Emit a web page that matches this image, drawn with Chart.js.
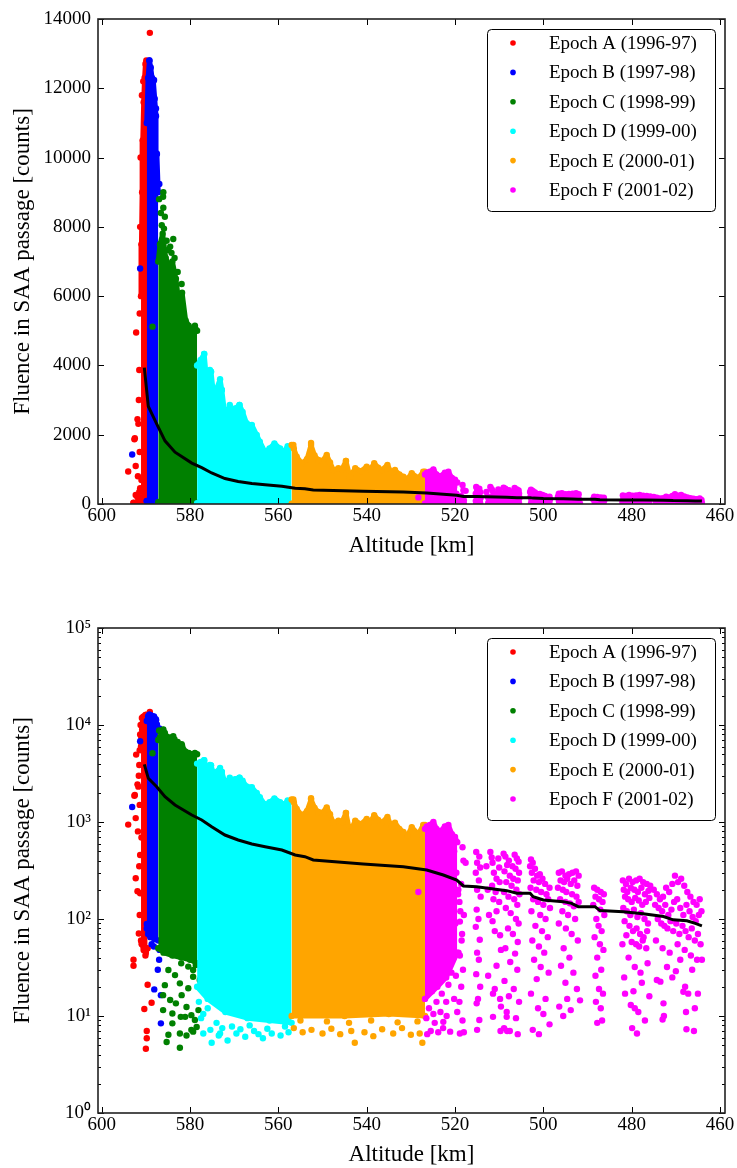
<!DOCTYPE html>
<html>
<head>
<meta charset="utf-8">
<script src="https://cdn.jsdelivr.net/npm/chart.js@4/dist/chart.umd.min.js"></script>
<style>
  html, body { margin: 0; padding: 0; background: #fff; }
  canvas { display: block; }
</style>
</head>
<body>
<canvas id="linChart" width="737" height="584"></canvas>
<canvas id="logChart" width="737" height="584"></canvas>
<script>
// axis ticks
const altTicks = [600, 580, 560, 540, 520, 500, 480, 460];
const linTicks = [0, 2000, 4000, 6000, 8000, 10000, 12000, 14000];
const logTicks = [1, 10, 100, 1000, 10000, 100000];
const logTickLabels = ['10⁰', '10¹', '10²', '10³', '10⁴', '10⁵'];

const epochLabels = [
  'Epoch A (1996-97)', 'Epoch B (1997-98)', 'Epoch C (1998-99)',
  'Epoch D (1999-00)', 'Epoch E (2000-01)', 'Epoch F (2001-02)',
];
const epochColors = ['#ff0000', '#0000ff', '#008000', '#00ffff', '#ffa500', '#ff00ff'];

// [altitude km, fluence counts] — dense core of each cloud: upper / lower edge
const epochA_top = [[589.6, 11000], [589.9, 12800], [590.1, 12700], [590.3, 12300], [590.5, 11600], [590.7, 10500], [590.85, 9000], [591.0, 7500], [591.1, 6000]];
const epochA_low = [[589.6, 50], [590.0, 45], [590.5, 48], [590.9, 55], [591.1, 60]];
const epochB_top = [[587.2, 9000], [587.5, 10100], [587.7, 11200], [588.0, 11700], [588.3, 12200], [588.6, 12300], [588.9, 12600], [589.2, 12800], [589.5, 12300], [589.8, 11000]];
const epochB_low = [[587.2, 60], [588.0, 62], [589.0, 65], [589.8, 80]];
const epochC_top = [[578.4, 5000], [578.9, 5150], [579.5, 5000], [580.3, 5150], [581.0, 5300], [581.8, 6100], [582.5, 5800], [583.2, 6500], [584.0, 7000], [584.8, 6900], [585.5, 7100], [586.2, 7800], [586.8, 7500], [587.2, 7000]];
const epochC_low = [[578.4, 35], [580.0, 38], [582.0, 40], [584.0, 42], [586.0, 45], [587.2, 50]];
const epochD_top = [[557.0, 1650], [557.9, 1670], [558.8, 1500], [559.6, 1600], [560.9, 1750], [562.0, 1600], [563.0, 1500], [564.2, 1800], [564.9, 1990], [566.0, 2280], [567.2, 2330], [568.1, 2660], [568.8, 2860], [569.8, 2760], [570.5, 2600], [571.0, 2860], [572.0, 2450], [572.8, 3290], [573.2, 3600], [574.2, 3250], [574.7, 3200], [575.25, 3820], [576.2, 3500], [576.8, 4330], [577.6, 4160], [578.4, 4000]];
const epochD_low = [[557.0, 8.5], [562.0, 9], [567.0, 9.5], [572.0, 11], [576.0, 15], [578.4, 20]];
const epochE_top = [[526.8, 930], [527.2, 932], [528.3, 750], [529.8, 886], [530.8, 720], [531.7, 788], [532.6, 850], [533.6, 981], [534.4, 900], [535.3, 1126], [536.6, 981], [537.4, 1050], [538.3, 1175], [539.2, 1000], [540.0, 1077], [541.3, 950], [542.6, 1030], [543.8, 788], [544.7, 1241], [545.6, 1000], [546.4, 1030], [547.55, 981], [548.3, 1200], [549.05, 1414], [550.0, 1250], [550.95, 1270], [551.8, 1400], [552.6, 1703], [553.5, 1300], [554.7, 1174], [555.85, 1366], [556.5, 1600], [557.0, 1703]];
const epochE_low = [[526.8, 10], [535.0, 10.5], [545.0, 10], [557.0, 10]];
const epochF_top = [[519.5, 620], [520.0, 700], [520.7, 750], [521.5, 930], [522.3, 900], [523.4, 800], [524.2, 850], [524.9, 1000], [525.7, 930], [526.4, 900], [526.8, 850]];
const epochF_low = [[519.5, 45], [522.0, 25], [524.0, 20], [526.8, 15]];

// single passages outside the dense cores
const epochA_pts = [[589.1, 13600], [592.2, 4950], [591.5, 3870], [591.9, 2445], [592.5, 1896], [594.0, 940], [592.3, 1097], [592.8, 38], [591.9, 193], [591.0, 693], [592.6, 1866], [591.7, 2313], [591.3, 457], [592.3, 263], [591.3, 184], [591.6, 71], [590.4, 48], [590.1, 42], [592.8, 33], [589.6, 21], [588.7, 13.7], [590.35, 11.8], [589.8, 7.0], [589.8, 5.9], [590.0, 4.6], [591.5, 350], [591.4, 1500], [591.6, 3000], [591.8, 800], [591.4, 110], [591.4, 5500], [591.3, 8000], [591.2, 10000], [590.9, 11800], [590.6, 12200]];
const epochB_pts = [[591.3, 6800], [593.1, 1430], [589.8, 89], [588.2, 52], [587.3, 30], [588.1, 18.8], [586.6, 16.4], [586.6, 8.4], [587.0, 38], [586.9, 48], [589.5, 70], [588.7, 55], [589.2, 12800], [588.15, 12240], [587.7, 11420], [587.55, 10120], [586.95, 9237]];
const epochC_pts = [[588.5, 5120], [583.8, 7650], [584.5, 7430], [584.9, 7330], [586.05, 9000], [586.1, 8870], [586.05, 8550], [585.7, 8290], [586.4, 8050], [587.0, 8800], [586.6, 8400], [585.9, 7950], [584.2, 7250], [583.5, 7100], [582.8, 6700], [581.9, 6350], [585.3, 7600],
  [582.3, 4.7], [585.3, 5.4], [584.9, 6.4], [582.3, 6.6], [580.8, 6.3], [579.7, 7.2], [579.3, 6.9], [578.5, 7.7], [586.1, 11.5], [584.0, 10.6], [582.1, 9.8], [583.2, 13.5], [586.1, 16.4], [580.8, 12.4], [578.9, 9.1], [579.7, 10.2], [578.1, 11.5], [585.7, 20.8], [582.3, 21.7], [583.4, 26.4], [584.9, 29.8], [580.4, 19.3], [579.3, 29.8], [577.8, 23.5], [582.0, 34.9], [580.4, 32.3], [578.7, 33.5], [579.3, 25.4], [581.9, 16.4], [584.5, 14.6], [584.0, 8.4], [581.1, 9.8]];
const epochD_pts = [[576.8, 4330], [575.25, 3820], [572.8, 3290], [568.8, 2860], [575.5, 3870], [574.7, 3195],
  [577.5, 9.5], [575.4, 7.2], [575.1, 5.3], [573.5, 6.3], [571.5, 5.6], [569.5, 6.6], [567.5, 6.1], [565.5, 7.0], [563.5, 5.9], [561.5, 6.6], [559.5, 6.3], [557.7, 6.8], [576.0, 12], [574.0, 8.5], [570.5, 7.8], [566.5, 8.0], [562.5, 7.4], [558.5, 7.8], [564.5, 6.5], [568.6, 7.3], [572.7, 7.5], [577.0, 10.5], [578.0, 14], [577.0, 6.6], [573.2, 6.6]];
const epochE_pts = [[552.6, 1760], [544.7, 1241], [556.6, 1703],
  [556.5, 7.5], [554.5, 6.8], [552.5, 7.2], [550.0, 6.6], [548.0, 7.4], [546.0, 6.5], [543.5, 7.0], [542.7, 5.3], [540.5, 6.8], [538.5, 6.2], [536.5, 7.3], [534.0, 6.6], [532.0, 7.5], [530.0, 6.4], [528.0, 6.6], [527.4, 5.3], [555.0, 9], [549.0, 8.8], [544.0, 8.5], [539.0, 9.0], [533.0, 8.6], [528.5, 8.8]];
const epochF_pts = [[528.3, 190],
  [526.3, 6.5], [525.5, 7.0], [524.6, 8.5], [523.8, 6.8], [522.7, 7.5], [521.9, 10], [525.9, 12], [524.2, 14], [523.0, 17], [521.5, 21], [520.8, 28], [525.2, 18], [526.0, 25], [522.4, 35], [523.6, 45], [521.0, 50], [520.2, 15], [519.5, 11], [518.3, 9], [518.0, 6.8], [519.0, 14], [518.6, 20], [519.8, 26], [520.5, 40], [518.2, 30], [519.2, 45], [518.4, 70], [519.9, 90], [518.0, 110], [519.0, 150], [518.6, 230], [519.7, 300], [518.1, 400], [520.2, 500], [519.3, 180], [518.8, 120], [520.4, 70], [526.5, 9.5], [524.9, 10.5], [523.3, 11], [522.0, 14], [518.9, 6.6], [521.1, 6.9], [522.65, 8.7], [518.9, 42], [518.5, 60], [518.9, 94], [519.25, 200], [517.6, 380], [518.3, 550],
  [515.2, 490], [514.5, 440], [515.0, 380], [514.3, 340], [515.3, 300], [514.6, 250], [515.0, 200], [514.2, 170], [515.1, 125], [514.7, 100], [515.3, 83], [514.4, 61], [515.0, 45], [514.6, 38], [515.2, 27], [514.3, 20], [515.1, 13.5], [514.5, 9.1], [515.0, 7.2], [514.8, 15],
  [512.0, 490], [511.7, 430], [510.2, 420], [511.5, 380], [510.0, 340], [511.2, 300], [510.6, 260], [509.9, 240], [511.6, 220], [510.8, 190], [511.3, 160], [510.0, 150], [510.6, 120], [511.5, 95], [511.0, 75], [509.8, 68], [509.6, 48], [510.6, 33], [511.0, 19], [511.4, 17], [509.8, 15], [509.6, 12.5], [511.4, 9.8], [508.3, 9.8], [509.7, 7.0], [508.2, 7.0], [512.5, 26], [512.9, 350], [512.6, 200], [512.3, 110],
  [509.0, 470], [508.6, 440], [506.5, 460], [506.0, 420], [507.8, 400], [505.6, 390], [508.2, 360], [507.0, 350], [506.3, 330], [505.5, 300], [508.8, 310], [507.6, 280], [506.8, 260], [505.8, 250], [508.4, 240], [507.2, 220], [506.1, 200], [505.4, 180], [508.9, 190], [507.9, 170], [506.6, 160], [505.9, 140], [508.5, 130], [507.4, 115], [506.2, 100], [505.6, 90], [508.0, 80], [506.9, 70], [505.8, 58], [508.6, 50], [506.4, 44], [507.5, 36], [505.9, 30], [508.8, 23], [506.7, 19], [507.8, 16], [505.5, 14], [508.3, 11], [506.2, 9.5], [508.9, 7.5], [507.6, 7.0], [505.8, 6.5],
  [502.8, 410], [502.4, 380], [503.0, 350], [501.9, 330], [502.6, 300], [501.4, 280], [500.8, 290], [502.2, 250], [501.0, 240], [500.2, 260], [499.6, 230], [502.9, 210], [501.6, 200], [500.5, 190], [499.3, 180], [498.6, 210], [502.3, 160], [501.2, 150], [500.0, 140], [498.9, 160], [502.7, 120], [500.7, 110], [499.5, 100], [498.5, 130], [501.8, 85], [500.3, 75], [502.5, 60], [499.0, 65], [501.0, 52], [499.8, 45], [502.1, 38], [500.6, 32], [498.8, 28], [501.5, 24], [502.8, 17], [499.5, 15], [501.2, 12], [500.0, 10.5], [498.6, 8.2], [502.4, 7.2], [501.0, 6.5],
  [496.5, 300], [495.8, 310], [495.0, 280], [494.2, 290], [493.4, 300], [492.6, 310], [492.0, 280], [496.1, 250], [495.3, 240], [494.6, 260], [493.8, 230], [493.0, 250], [492.3, 220], [496.7, 210], [495.6, 200], [494.8, 190], [493.5, 180], [492.5, 170], [496.2, 160], [495.0, 150], [494.0, 145], [493.1, 135], [492.0, 150], [495.7, 120], [494.4, 110], [492.8, 100], [496.5, 90], [494.9, 80], [493.6, 70], [492.2, 60], [495.4, 50], [494.1, 40], [496.0, 33], [493.2, 28], [495.0, 22], [492.4, 19], [494.6, 15], [496.4, 12.5], [493.8, 11.5], [495.5, 10], [491.7, 14.5],
  [488.5, 210], [487.8, 200], [487.0, 190], [486.3, 180], [488.2, 170], [487.4, 160], [486.6, 150], [488.7, 140], [487.1, 125], [486.2, 110], [488.0, 100], [487.5, 85], [486.8, 75], [488.4, 65], [487.2, 55], [486.4, 48], [487.8, 40], [486.9, 30], [488.2, 26], [487.4, 19], [486.5, 17], [488.1, 14], [487.0, 12], [486.7, 9], [487.8, 8.5],
  [482.0, 250], [481.3, 230], [480.6, 260], [479.8, 240], [479.0, 250], [478.2, 260], [477.4, 240], [476.6, 230], [475.8, 220], [481.8, 200], [481.0, 190], [480.2, 210], [479.4, 200], [478.6, 190], [477.8, 210], [477.0, 180], [476.2, 195], [481.5, 170], [480.8, 160], [480.0, 150], [479.2, 165], [478.4, 155], [477.6, 140], [476.8, 150], [476.0, 165], [481.9, 130], [481.1, 120], [480.3, 110], [479.5, 125], [478.7, 105], [477.9, 115], [477.1, 100], [476.3, 90], [481.6, 95], [480.5, 85], [479.7, 75], [478.9, 80], [478.1, 70], [477.3, 65], [476.5, 75], [481.2, 68], [480.0, 58], [479.0, 55], [478.3, 52], [477.5, 60], [476.7, 50], [482.1, 55], [480.7, 40], [479.3, 32], [478.0, 28], [476.4, 35], [481.7, 25], [479.6, 18], [477.7, 22], [476.0, 16], [480.2, 13], [478.5, 11], [477.0, 9], [479.9, 7.5], [478.8, 6.6], [481.5, 17], [479.3, 12],
  [475.0, 200], [474.3, 180], [473.6, 160], [472.9, 170], [472.2, 210], [471.5, 190], [470.8, 230], [470.2, 280], [469.5, 240], [468.8, 260], [468.1, 220], [467.4, 190], [466.7, 170], [466.0, 150], [465.3, 140], [464.6, 160], [464.2, 120], [474.7, 140], [473.9, 130], [473.1, 120], [472.4, 140], [471.7, 110], [471.0, 125], [470.4, 150], [469.7, 160], [469.0, 130], [468.3, 110], [467.6, 140], [466.9, 120], [466.2, 105], [465.5, 95], [464.8, 110], [474.1, 100], [473.3, 90], [472.6, 85], [471.9, 80], [471.2, 95], [470.6, 75], [469.9, 90], [469.2, 70], [468.5, 85], [467.8, 75], [467.1, 65], [466.4, 80], [465.7, 60], [465.0, 70], [464.4, 55], [474.5, 60], [473.0, 50], [471.4, 45], [469.6, 55], [468.0, 48], [466.6, 42], [465.2, 38], [474.3, 23.5], [473.5, 22.6], [472.0, 32], [472.8, 13.5], [472.7, 10], [473.0, 9.2], [468.3, 17.8], [467.9, 20], [467.7, 11], [467.2, 17], [465.0, 17], [464.1, 38], [465.7, 12], [467.6, 7.3], [465.9, 7.0], [470.0, 29], [469.0, 38], [470.8, 25], [466.3, 30]];

// running median
const medianLine = [[464.1, 85], [465.6, 90], [467.5, 96], [470.6, 98], [472.8, 106], [477.4, 113], [481.9, 119], [487.2, 122], [488.3, 134], [492.1, 134], [493.6, 145], [495.5, 151], [500.0, 157], [502.3, 170], [503.0, 184], [506.0, 184], [508.3, 196], [515.1, 215], [518.1, 219], [519.6, 252], [522.65, 284], [526.4, 320], [531.7, 346], [540.8, 369], [552.1, 406], [554.0, 439], [556.2, 457], [559.2, 514], [563.0, 556], [566.0, 593], [569.1, 652], [572.1, 734], [575.1, 895], [577.35, 1049], [579.6, 1180], [583.4, 1497], [585.67, 1823], [587.55, 2313], [589.45, 2820], [590.35, 3935]];

const epochTops = [epochA_top, epochB_top, epochC_top, epochD_top, epochE_top, epochF_top];
const epochLows = [epochA_low, epochB_low, epochC_low, epochD_low, epochE_low, epochF_low];
const epochPts = [epochA_pts, epochB_pts, epochC_pts, epochD_pts, epochE_pts, epochF_pts];

const FONT = '"Liberation Serif", "Times New Roman", serif';
Chart.defaults.font.family = FONT;
Chart.defaults.color = '#000';

const toXY = arr => arr.map(([x, y]) => ({ x, y }));

function buildDatasets() {
  const ds = [];
  epochTops.forEach((top, i) => {
    const c = epochColors[i];
    const order = 10 - i;
    const edge = {
      type: 'line', borderColor: c, borderWidth: 5, borderJoinStyle: 'round', borderCapStyle: 'round',
      pointRadius: 3.2, pointBackgroundColor: c, pointBorderWidth: 0, order,
    };
    const lowIdx = ds.length;
    ds.push({ ...edge, data: toXY(epochLows[i]), fill: false });
    ds.push({ ...edge, data: toXY(top), backgroundColor: c, fill: { target: lowIdx, above: c, below: c } });
    ds.push({ type: 'scatter', data: toXY(epochPts[i]), pointRadius: 3.2, backgroundColor: c, borderWidth: 0, order });
  });
  ds.push({ type: 'line', data: toXY(medianLine), borderColor: '#000', borderWidth: 3, pointRadius: 0, fill: false, order: 0 });
  return ds;
}

// 内向きの目盛りと枠
const frameTicks = {
  id: 'frameTicks',
  afterDraw(chart) {
    const { ctx, chartArea: a, scales: { x, y } } = chart;
    const isLog = y.type === 'logarithmic';
    ctx.save();
    ctx.strokeStyle = '#000';
    ctx.lineWidth = 1;
    ctx.beginPath();
    altTicks.forEach(v => {
      const p = Math.round(x.getPixelForValue(v)) + 0.5;
      ctx.moveTo(p, a.bottom); ctx.lineTo(p, a.bottom - 6);
      ctx.moveTo(p, a.top); ctx.lineTo(p, a.top + 6);
    });
    (isLog ? logTicks : linTicks).forEach(v => {
      const p = Math.round(y.getPixelForValue(v)) + 0.5;
      ctx.moveTo(a.left, p); ctx.lineTo(a.left + 6, p);
      ctx.moveTo(a.right, p); ctx.lineTo(a.right - 6, p);
    });
    if (isLog) {
      for (let d = 1; d < 100000; d *= 10) {
        for (let m = 2; m < 10; m++) {
          const p = Math.round(y.getPixelForValue(m * d)) + 0.5;
          ctx.moveTo(a.left, p); ctx.lineTo(a.left + 3, p);
          ctx.moveTo(a.right, p); ctx.lineTo(a.right - 3, p);
        }
      }
    }
    ctx.stroke();
    ctx.lineWidth = 1.6;
    ctx.strokeStyle = '#222';
    ctx.strokeRect(a.left, a.top, a.right - a.left, a.bottom - a.top);
    ctx.restore();
  },
};

const legendBox = {
  id: 'legendBox',
  afterDraw(chart) {
    const { ctx, chartArea: a } = chart;
    const x0 = a.right - 238, y0 = a.top + 10, w = 228, h = 182;
    ctx.save();
    ctx.beginPath();
    ctx.roundRect(x0 + 0.5, y0 + 0.5, w, h, 4);
    ctx.fillStyle = '#fff';
    ctx.fill();
    ctx.lineWidth = 1;
    ctx.strokeStyle = '#000';
    ctx.stroke();
    ctx.font = '19px ' + FONT;
    ctx.textBaseline = 'middle';
    epochLabels.forEach((lab, i) => {
      const yy = y0 + 14 + i * 29.4;
      ctx.fillStyle = epochColors[i];
      ctx.beginPath();
      ctx.arc(x0 + 26, yy, 2.8, 0, Math.PI * 2);
      ctx.fill();
      ctx.fillStyle = '#000';
      ctx.fillText(lab, x0 + 62, yy + 1);
    });
    ctx.restore();
  },
};

function makeChart(id, isLog) {
  const yScale = isLog
    ? {
        type: 'logarithmic', min: 1, max: 100000,
        afterBuildTicks: s => { s.ticks = logTicks.map(v => ({ value: v })); },
        ticks: { callback: v => logTickLabels[logTicks.indexOf(v)], font: { size: 19 }, padding: 7 },
      }
    : {
        type: 'linear', min: 0, max: 14000,
        afterBuildTicks: s => { s.ticks = linTicks.map(v => ({ value: v })); },
        ticks: { callback: v => String(v), font: { size: 19 }, padding: 7 },
      };
  Object.assign(yScale, {
    afterFit: s => { s.width = 88; },
    grid: { display: false, drawTicks: false },
    border: { display: false },
    title: { display: true, text: 'Fluence in SAA passage [counts]', font: { size: 23, lineHeight: 1.1 }, padding: 0 },
  });

  return new Chart(document.getElementById(id), {
    type: 'scatter',
    data: { datasets: buildDatasets() },
    options: {
      responsive: false,
      animation: false,
      events: [],
      layout: {
        autoPadding: false,
        padding: isLog ? { left: 10, right: 12, top: 44, bottom: 0 } : { left: 10, right: 12, top: 19, bottom: 25 },
      },
      plugins: { legend: { display: false }, tooltip: { enabled: false } },
      scales: {
        x: {
          type: 'linear', reverse: true, min: 458.87, max: 600.84,
          afterBuildTicks: s => { s.ticks = altTicks.map(v => ({ value: v })); },
          afterFit: s => { s.height = 55; },
          ticks: { callback: v => String(v), font: { size: 19 }, padding: 1, maxRotation: 0 },
          grid: { display: false, drawTicks: false },
          border: { display: false },
          title: { display: true, text: 'Altitude [km]', font: { size: 23, lineHeight: 1.1 }, padding: 0 },
        },
        y: yScale,
      },
    },
    plugins: [frameTicks, legendBox],
  });
}

makeChart('linChart', false);
makeChart('logChart', true);
</script>
</body>
</html>
